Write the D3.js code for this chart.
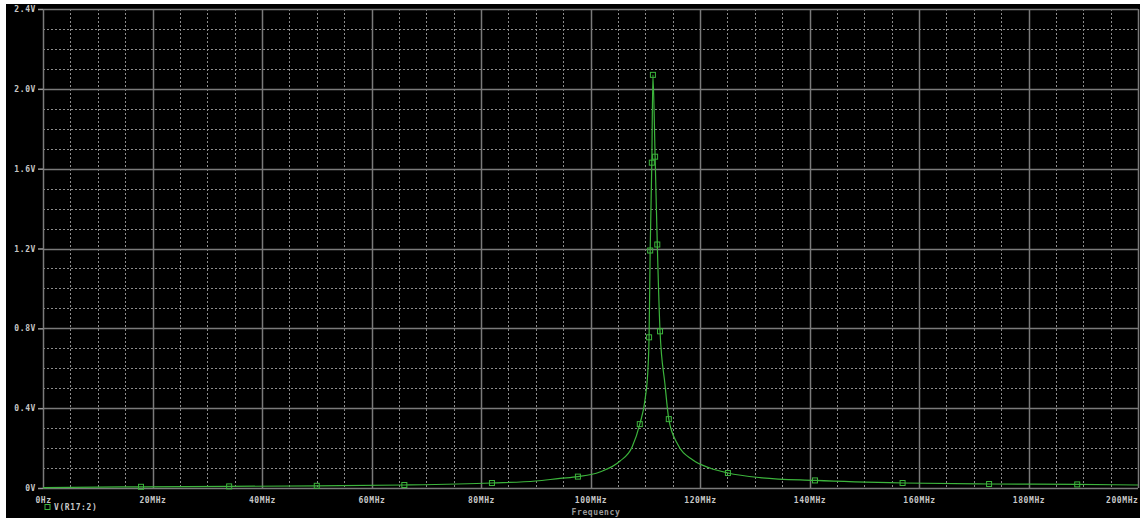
<!DOCTYPE html>
<html lang="en">
<head>
<meta charset="UTF-8">
<title>V(R17:2) frequency response</title>
<script src="https://d3js.org/d3.v7.min.js"></script>
<style>
  html, body { margin: 0; padding: 0; background: #fff; }
  #chart { position: absolute; left: 0; top: 0; }
  text { font-family: "DejaVu Sans Mono", monospace; font-weight: bold; }
</style>
</head>
<body>
<div id="chart"></div>
<script>
// frequency in MHz, voltage in V
var freq = [0, 10, 17.9, 34, 50, 66, 82, 90, 94.4, 97.7, 101.7, 105.4, 107.6, 109.0, 110.0, 110.5,
  110.7, 110.9, 111.2, 111.4, 111.8, 112.2, 112.7, 113.6, 114.3, 115.8, 118.7, 121.8, 125.1, 131,
  141, 157, 172.8, 188.9, 200];
var volt = [0.002, 0.004, 0.006, 0.008, 0.011, 0.015, 0.025, 0.035, 0.048, 0.057, 0.08, 0.135, 0.205, 0.32, 0.45, 0.6,
  0.755, 1.19, 1.63, 2.07, 1.66, 1.22, 0.785, 0.52, 0.345, 0.225, 0.14, 0.10, 0.075, 0.052,
  0.038, 0.025, 0.02, 0.018, 0.015];

// where the square markers sit on the trace
var markerFreq = [17.9, 34, 50, 66, 82, 97.7, 109.0, 110.7, 110.9, 111.2, 111.4, 111.8, 112.2, 112.7,
  114.3, 125.1, 141, 157, 172.8, 188.9];
var markerVolt = [0.006, 0.008, 0.011, 0.015, 0.025, 0.057, 0.32, 0.755, 1.19, 1.63, 2.07, 1.66, 1.22, 0.785,
  0.345, 0.075, 0.038, 0.025, 0.02, 0.018];

var xTicks = [0, 20, 40, 60, 80, 100, 120, 140, 160, 180, 200];
var xTickLabels = ['0Hz', '20MHz', '40MHz', '60MHz', '80MHz', '100MHz', '120MHz', '140MHz', '160MHz', '180MHz', '200MHz'];
var yTicks = [0, 0.4, 0.8, 1.2, 1.6, 2.0, 2.4];
var yTickLabels = ['0V', '0.4V', '0.8V', '1.2V', '1.6V', '2.0V', '2.4V'];
var xMinor = [5, 10, 15, 25, 30, 35, 45, 50, 55, 65, 70, 75, 85, 90, 95, 105, 110, 115, 125, 130, 135,
  145, 150, 155, 165, 170, 175, 185, 190, 195];
var yMinor = [0.1, 0.2, 0.3, 0.5, 0.6, 0.7, 0.9, 1.0, 1.1, 1.3, 1.4, 1.5, 1.7, 1.8, 1.9, 2.1, 2.2, 2.3];

var seriesName = 'V(R17:2)';
var xTitle = 'Frequency';

var W = 1140, H = 518;
var margin = { top: 9, right: 2, bottom: 30, left: 43 };
var width = W - margin.left - margin.right,
    height = H - margin.top - margin.bottom;

var svg = d3.select('#chart').append('svg')
  .attr('width', W)
  .attr('height', H);

// black window with the thin white frame of the screenshot
svg.append('rect')
  .attr('x', 6).attr('y', 4)
  .attr('width', W - 6).attr('height', H - 4)
  .attr('fill', '#000');

var g = svg.append('g')
  .attr('transform', 'translate(' + margin.left + ',' + margin.top + ')');

var x = d3.scaleLinear().domain([0, 200]).range([0, width]);
var y = d3.scaleLinear().domain([0, 2.4]).range([height, 0]);

// minor grid (dotted)
g.selectAll('.vminor').data(xMinor).enter().append('line')
  .attr('x1', function(d) { return Math.round(x(d)) + 0.5; })
  .attr('x2', function(d) { return Math.round(x(d)) + 0.5; })
  .attr('y1', 0).attr('y2', height)
  .attr('stroke', '#8c8c8c')
  .attr('stroke-dasharray', '2,2');

g.selectAll('.hminor').data(yMinor).enter().append('line')
  .attr('y1', function(d) { return Math.round(y(d)) + 0.5; })
  .attr('y2', function(d) { return Math.round(y(d)) + 0.5; })
  .attr('x1', 0).attr('x2', width)
  .attr('stroke', '#8c8c8c')
  .attr('stroke-dasharray', '2,2');

// major grid
g.selectAll('.vmajor').data(xTicks).enter().append('line')
  .attr('x1', function(d) { return Math.round(x(d)) + 0.5; })
  .attr('x2', function(d) { return Math.round(x(d)) + 0.5; })
  .attr('y1', 0).attr('y2', height)
  .attr('stroke', '#7a7a7a')
  .attr('stroke-width', 1.5);

g.selectAll('.hmajor').data(yTicks).enter().append('line')
  .attr('y1', function(d) { return Math.round(y(d)) + 0.5; })
  .attr('y2', function(d) { return Math.round(y(d)) + 0.5; })
  .attr('x1', 0).attr('x2', width)
  .attr('stroke', '#7a7a7a')
  .attr('stroke-width', 1.5);

// y axis with small ticks
var yAxis = d3.axisLeft(y)
  .tickValues(yTicks)
  .tickSize(5)
  .tickPadding(2)
  .tickFormat(function(d, i) { return yTickLabels[i]; });

var yg = g.append('g').call(yAxis);
yg.select('.domain').remove();
yg.selectAll('line').attr('stroke', '#9a9a9a').attr('stroke-width', 1.5);
yg.selectAll('text')
  .attr('fill', '#c8c8c8')
  .style('font-size', '8px')
  .style('letter-spacing', '0.6px');

// x axis labels
var xAxis = d3.axisBottom(x)
  .tickValues(xTicks)
  .tickSize(0)
  .tickPadding(9)
  .tickFormat(function(d, i) { return xTickLabels[i]; });

var xg = g.append('g')
  .attr('transform', 'translate(0,' + height + ')')
  .call(xAxis);
xg.select('.domain').remove();
xg.selectAll('text')
  .attr('fill', '#c8c8c8')
  .style('font-size', '8px')
  .style('letter-spacing', '0.6px')
  .attr('text-anchor', function(d, i) { return i === xTicks.length - 1 ? 'end' : 'middle'; });

// trace
var pts = freq.map(function(f, i) { return [f, volt[i]]; });
var line = d3.line()
  .x(function(d) { return x(d[0]); })
  .y(function(d) { return y(d[1]); })
  .curve(d3.curveMonotoneX);

g.append('path')
  .datum(pts)
  .attr('d', line)
  .attr('fill', 'none')
  .attr('stroke', '#3cb43c')
  .attr('stroke-width', 1.2);

var marks = markerFreq.map(function(f, i) { return [f, markerVolt[i]]; });
g.selectAll('.mk').data(marks).enter().append('rect')
  .attr('x', function(d) { return x(d[0]) - 2.5; })
  .attr('y', function(d) { return y(d[1]) - 2.5; })
  .attr('width', 5).attr('height', 5)
  .attr('fill', 'none')
  .attr('stroke', '#3cb43c')
  .attr('stroke-width', 1);

// legend
var lg = g.append('g').attr('transform', 'translate(2,' + (height + 19) + ')');
lg.append('rect')
  .attr('x', 0).attr('y', -2.5)
  .attr('width', 5).attr('height', 5)
  .attr('fill', 'none')
  .attr('stroke', '#3cb43c');
lg.append('text')
  .attr('x', 9).attr('y', 3)
  .attr('fill', '#c8c8c8')
  .style('font-size', '8px')
  .style('letter-spacing', '0.6px')
  .text(seriesName);

// x title
g.append('text')
  .attr('x', x(101))
  .attr('y', height + 27)
  .attr('text-anchor', 'middle')
  .attr('fill', '#9a9a9a')
  .style('font-size', '8px')
  .style('letter-spacing', '0.6px')
  .text(xTitle);
</script>
</body>
</html>
